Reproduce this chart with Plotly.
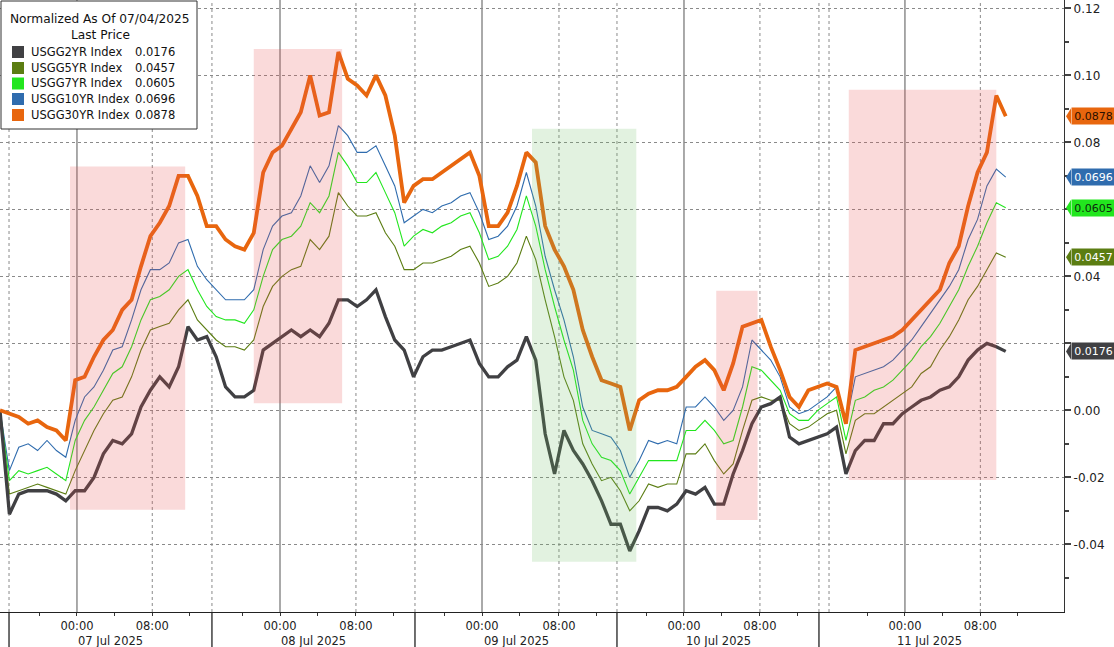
import plotly.graph_objects as go

# ---------------- data (basis points; x = trading hours) --------------
hours = list(range(108))

usgg2 = [0.0, -3.1, -2.5, -2.4, -2.4, -2.4, -2.5, -2.7, -2.4, -2.4,
         -2.0, -1.3, -0.9, -1.0, -0.7, 0.1, 0.6, 1.0, 0.7, 1.3,
         2.5, 2.1, 2.2, 1.6, 0.7, 0.4, 0.4, 0.6, 1.8, 2.0,
         2.2, 2.4, 2.2, 2.4, 2.2, 2.6, 3.3, 3.3, 3.1, 3.3,
         3.6, 2.8, 2.1, 1.8, 1.0, 1.6, 1.8, 1.8, 1.9, 2.0,
         2.1, 1.4, 1.0, 1.0, 1.3, 1.5, 2.2, 1.5, -0.7, -1.9,
         -0.6, -1.2, -1.6, -2.1, -2.7, -3.4, -3.4, -4.2, -3.6, -2.9,
         -2.9, -3.0, -2.8, -2.4, -2.5, -2.3, -2.8, -2.8, -1.9, -1.2,
         -0.4, 0.1, 0.2, 0.4, -0.8, -1.0, -0.9, -0.8, -0.7, -0.5,
         -1.9, -1.2, -0.9, -0.9, -0.4, -0.4, -0.1, 0.1, 0.3, 0.4,
         0.6, 0.7, 1.0, 1.5, 1.8, 2.0, 1.9, 1.76]

usgg5 = [0.0, -2.5, -2.4, -2.3, -2.2, -2.3, -2.4, -2.5, -1.8, -1.2,
         -0.6, -0.1, 0.3, 0.4, 1.0, 1.8, 2.4, 2.5, 2.6, 3.0,
         3.3, 2.7, 2.4, 2.1, 1.9, 1.9, 1.8, 2.1, 3.1, 3.7,
         4.0, 4.2, 4.3, 5.1, 4.8, 5.2, 6.5, 6.1, 5.8, 5.8,
         5.9, 5.3, 4.9, 4.2, 4.2, 4.4, 4.4, 4.5, 4.6, 4.8,
         4.9, 4.4, 3.7, 3.8, 4.0, 4.4, 5.2, 4.5, 3.3, 2.2,
         1.0, 0.3, -1.0, -1.6, -2.1, -2.0, -2.4, -3.0, -2.7, -2.2,
         -2.3, -2.2, -2.2, -1.3, -1.3, -1.0, -1.5, -1.9, -1.6, -0.6,
         0.3, 0.4, 0.3, 0.3, -0.4, -0.6, -0.5, -0.3, -0.1, 0.0,
         -1.3, -0.3, -0.1, -0.1, 0.1, 0.3, 0.5, 0.7, 1.1, 1.3,
         1.8, 2.2, 2.7, 3.3, 3.7, 4.2, 4.7, 4.57]

usgg7 = [0.0, -2.1, -1.8, -1.9, -1.8, -1.7, -1.9, -2.1, -0.9, -0.3,
         0.1, 0.6, 1.1, 1.3, 1.9, 2.7, 3.3, 3.4, 3.6, 4.0,
         4.2, 3.6, 3.1, 2.8, 2.7, 2.7, 2.6, 3.0, 4.0, 4.8,
         5.1, 5.2, 5.5, 6.2, 5.9, 6.4, 7.7, 7.3, 6.8, 6.8,
         7.1, 6.5, 5.9, 4.9, 5.2, 5.4, 5.3, 5.5, 5.6, 5.8,
         5.9, 5.3, 4.5, 4.6, 4.9, 5.4, 6.4, 5.5, 4.2, 3.1,
         2.1, 1.2, -0.3, -1.0, -1.4, -1.5, -1.8, -2.5, -2.0, -1.5,
         -1.5, -1.5, -1.5, -0.6, -0.6, -0.3, -0.6, -1.0, -0.9, 0.1,
         1.3, 1.2, 0.9, 0.6, -0.1, -0.3, -0.3, 0.0, 0.2, 0.4,
         -0.9, 0.3, 0.4, 0.6, 0.7, 0.9, 1.2, 1.5, 1.9, 2.2,
         2.6, 3.1, 3.6, 4.3, 4.9, 5.6, 6.2, 6.05]

usgg10 = [0.0, -1.8, -1.1, -1.0, -1.2, -0.9, -1.2, -1.4, -0.3, 0.4,
          0.7, 1.2, 1.8, 1.9, 2.7, 3.6, 4.2, 4.2, 4.4, 5.0,
          5.1, 4.3, 3.9, 3.6, 3.3, 3.3, 3.3, 3.6, 4.8, 5.5,
          5.8, 5.9, 6.4, 7.3, 6.8, 7.3, 8.5, 8.2, 7.7, 7.7,
          7.9, 7.3, 6.7, 5.6, 5.8, 6.0, 5.9, 6.1, 6.2, 6.4,
          6.5, 5.9, 5.1, 5.2, 5.5, 6.1, 7.1, 6.1, 4.6, 3.6,
          2.7, 1.6, 0.1, -0.6, -0.7, -0.8, -1.2, -2.0, -1.5, -0.9,
          -1.0, -0.9, -1.0, 0.1, 0.1, 0.4, 0.1, -0.3, 0.0, 0.7,
          2.1, 1.8, 1.5, 1.0, 0.1, -0.1, 0.0, 0.2, 0.4, 0.7,
          -0.4, 1.0, 1.1, 1.2, 1.3, 1.5, 1.8, 2.1, 2.5, 2.9,
          3.3, 3.7, 4.2, 5.1, 5.7, 6.7, 7.2, 6.96]

usgg30 = [0.0, -0.1, -0.2, -0.4, -0.3, -0.5, -0.6, -0.9, 0.9, 1.0,
          1.6, 2.1, 2.4, 3.0, 3.3, 4.3, 5.2, 5.6, 6.1, 7.0,
          7.0, 6.4, 5.5, 5.5, 5.1, 4.9, 4.8, 5.3, 7.1, 7.7,
          7.9, 8.4, 8.9, 10.0, 8.8, 8.9, 10.7, 9.9, 9.7, 9.4,
          10.0, 9.4, 8.2, 6.2, 6.7, 6.9, 6.9, 7.1, 7.3, 7.5,
          7.7, 7.0, 5.5, 5.5, 5.9, 6.7, 7.7, 7.4, 5.5, 4.8,
          4.3, 3.6, 2.4, 1.6, 0.9, 0.8, 0.7, -0.6, 0.3, 0.5,
          0.6, 0.6, 0.7, 1.0, 1.3, 1.5, 1.2, 0.6, 1.4, 2.5,
          2.6, 2.7, 1.9, 1.2, 0.4, 0.1, 0.6, 0.7, 0.8, 0.7,
          -0.4, 1.8, 1.9, 2.0, 2.1, 2.2, 2.4, 2.7, 3.0, 3.3,
          3.6, 4.4, 4.9, 6.1, 7.1, 7.7, 9.4, 8.78]

names = ["USGG2YR Index", "USGG5YR Index", "USGG7YR Index", "USGG10YR Index", "USGG30YR Index"]
last_price = [0.0176, 0.0457, 0.0605, 0.0696, 0.0878]
series_bp = [usgg2, usgg5, usgg7, usgg10, usgg30]

time_tick_labels = ["00:00", "08:00"]
date_labels = ["07 Jul 2025", "08 Jul 2025", "09 Jul 2025", "10 Jul 2025", "11 Jul 2025"]
y_tick_values = [-0.04, -0.02, 0.0, 0.02, 0.04, 0.06, 0.08, 0.10, 0.12]
y_tick_labels = ["-0.04", "-0.02", "0.00", "", "0.04", "", "0.08", "0.10", "0.12"]
y_minor_values = [-0.05, -0.03, -0.01, 0.01, 0.03, 0.05, 0.07, 0.09, 0.11]

# highlight periods (hours, value)
highlights = [
    (7.45, 19.7, -0.0297, 0.0728, "red"),
    (27.0, 36.4, 0.0021, 0.1079, "red"),
    (56.6, 67.7, -0.0452, 0.0841, "green"),
    (76.2, 80.6, -0.0327, 0.0357, "red"),
    (90.3, 106.0, -0.0208, 0.0957, "red"),
]

# ---------------- styling ----------------
colors = ["#404043", "#5b7d12", "#22e61e", "#2f6cae", "#e8660e"]
widths = [3.3, 1.1, 1.1, 1.1, 3.8]
tag_text = ["white", "white", "#0d2a0d", "white", "#2a1000"]

W, H = 1114, 647
ML, MR, MT, MB = 0, 50, 0, 35
PW, PH = W - ML - MR, H - MT - MB
XMAX = 113.2
YMIN, YMAX = -0.0602, 0.1225
FONT = "DejaVu Sans"


def px(xp):
    return xp / PW


def py(yp):
    return 1 - yp / PH


fig = go.Figure()

order = [3, 2, 1, 0, 4]
for i in order:
    fig.add_trace(go.Scatter(
        x=hours, y=[v / 100 for v in series_bp[i]], mode="lines",
        line=dict(color=colors[i], width=widths[i]), name=names[i],
        showlegend=False, hoverinfo="skip"))

shapes = []
# day structure on the compressed time axis
day_seps = [0.96, 22.55, 44.15, 65.64, 87.13]
midnights = [8.19, 29.79, 51.28, 72.77, 96.28]
mornings = [16.2, 37.87, 59.47, 80.85, 104.3]
date_centers = [11.76, 33.35, 54.9, 76.4, 98.9]
minor_ticks = []
for m, e in zip(midnights, mornings):
    minor_ticks += [m - 4, m + 4, e + 4]

for xv in midnights:
    shapes.append(dict(type="line", xref="x", yref="paper", x0=xv, x1=xv, y0=0, y1=1,
                       line=dict(color="#555555", width=1), layer="below"))
for xv in mornings + day_seps + [88.2]:
    shapes.append(dict(type="line", xref="x", yref="paper", x0=xv, x1=xv, y0=0, y1=1,
                       line=dict(color="#8a8a8a", width=1, dash="dot"), layer="below"))
for xv in day_seps:
    shapes.append(dict(type="line", xref="x", yref="paper", x0=xv, x1=xv, y0=0, y1=-MB / PH,
                       line=dict(color="#222222", width=1.3)))

for x0, x1, y0, y1, kind in highlights:
    fill = "rgba(232,80,80,0.21)" if kind == "red" else "rgba(110,190,100,0.2)"
    shapes.append(dict(type="rect", xref="x", yref="y", x0=x0, x1=x1, y0=y0, y1=y1,
                       fillcolor=fill, line=dict(width=0), layer="above"))

annotations = []
for lbl, xc in zip(date_labels, date_centers):
    annotations.append(dict(text=lbl, x=xc, xref="x", y=py(H - 6 - MT), yref="paper",
                            showarrow=False, xanchor="center", yanchor="middle",
                            font=dict(family=FONT, size=11.5, color="#222222")))

# last price tags on the right axis
dy = 0.0024
for i in range(5):
    v = last_price[i]
    tip = 1 + px(2)
    base = 1 + px(7)
    shapes.append(dict(type="path", xref="paper", yref="y",
                       path=f"M {tip} {v} L {base} {v + dy} L {base} {v - dy} Z",
                       fillcolor=colors[i], line=dict(width=0)))
    annotations.append(dict(text=f"{v:.4f}", x=base, xref="paper", y=v, yref="y",
                            showarrow=False, xanchor="left", yanchor="middle",
                            bgcolor=colors[i], borderpad=1, width=41, height=14, align="center",
                            font=dict(family=FONT, size=11, color=tag_text[i])))

# legend box
shapes.append(dict(type="rect", xref="paper", yref="paper", x0=px(1), x1=px(197),
                   y0=py(129), y1=py(1), fillcolor="white",
                   line=dict(color="#333333", width=1), layer="above"))
annotations.append(dict(text="Normalized As Of 07/04/2025", x=px(100), y=py(19), xref="paper",
                        yref="paper", showarrow=False, xanchor="center", yanchor="middle",
                        font=dict(family=FONT, size=12.2, color="#111111")))
annotations.append(dict(text="Last Price", x=px(100), y=py(35), xref="paper",
                        yref="paper", showarrow=False, xanchor="center", yanchor="middle",
                        font=dict(family=FONT, size=12.2, color="#111111")))
row_y = [52, 68, 83.5, 99, 115]
for i in range(5):
    shapes.append(dict(type="rect", xref="paper", yref="paper", x0=px(12), x1=px(24),
                       y0=py(row_y[i] + 6), y1=py(row_y[i] - 6), fillcolor=colors[i],
                       line=dict(width=0), layer="above"))
    annotations.append(dict(text=names[i], x=px(29), y=py(row_y[i]), xref="paper", yref="paper",
                            showarrow=False, xanchor="left", yanchor="middle",
                            font=dict(family=FONT, size=11.5, color="#111111")))
    annotations.append(dict(text=f"{last_price[i]:.4f}", x=px(133), y=py(row_y[i]), xref="paper",
                            yref="paper", showarrow=False, xanchor="left", yanchor="middle",
                            font=dict(family=FONT, size=11.5, color="#111111")))

fig.update_layout(
    width=W, height=H, autosize=False,
    margin=dict(l=ML, r=MR, t=MT, b=MB),
    paper_bgcolor="white", plot_bgcolor="white",
    shapes=shapes, annotations=annotations, showlegend=False,
    xaxis=dict(range=[0, XMAX], showgrid=False, zeroline=False,
               tickmode="array", tickvals=[v for p in zip(midnights, mornings) for v in p],
               ticktext=time_tick_labels * 5, ticks="outside", ticklen=3, tickcolor="#333333",
               showline=True, linecolor="#222222", linewidth=1.3,
               tickfont=dict(family=FONT, size=11.5, color="#222222"),
               minor=dict(tickmode="array", tickvals=minor_ticks, ticks="outside", ticklen=3,
                          tickcolor="#333333")),
    yaxis=dict(range=[YMIN, YMAX], side="right", tickmode="array",
               tickvals=y_tick_values, ticktext=y_tick_labels,
               showgrid=True, gridcolor="#8a8a8a", griddash="dot", gridwidth=1,
               zeroline=False, ticks="outside", ticklen=6, tickwidth=2, tickcolor="#444444",
               showline=True, linecolor="#333333", linewidth=1.3,
               tickfont=dict(family=FONT, size=12, color="#222222"),
               minor=dict(tickmode="array", tickvals=y_minor_values, ticks="outside", ticklen=4,
                          tickcolor="#444444", showgrid=False)),
)

fig.write_html("out.html", config={"displayModeBar": False},
               post_script="document.body.style.margin='0';document.body.style.overflow='hidden';")
